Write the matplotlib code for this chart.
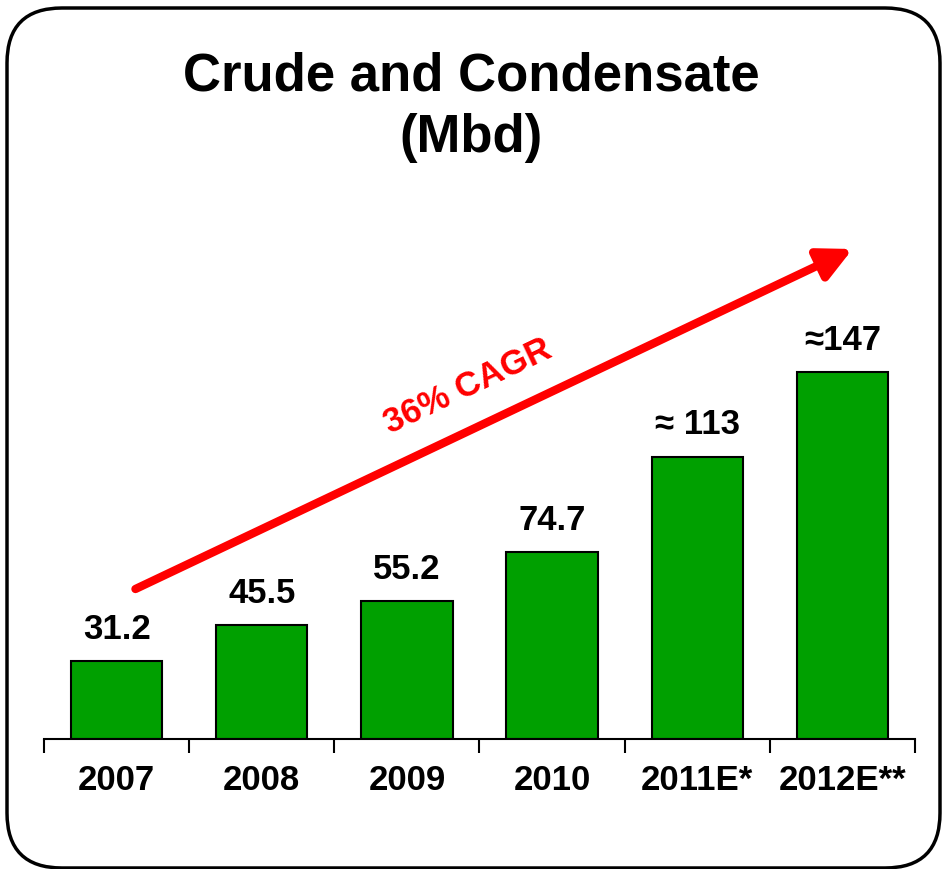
import matplotlib.pyplot as plt
from matplotlib.patches import FancyBboxPatch

years = ["2007", "2008", "2009", "2010", "2011E*", "2012E**"]
values = [31.2, 45.5, 55.2, 74.7, 113, 147]
value_labels = ["31.2", "45.5", "55.2", "74.7", "\u2248 113", "\u2248147"]

plt.rcParams['font.family'] = ['Liberation Sans', 'DejaVu Sans']

fig = plt.figure(figsize=(9.42, 8.69), dpi=100)
ax = fig.add_axes([44 / 942, 130 / 869, 871 / 942, 500 / 869])

x = range(len(years))
ax.bar(x, values, width=0.63, color="#00a000", edgecolor="black", linewidth=1.5)
for xi, v, lab in zip(x, values, value_labels):
    ax.text(xi, v + 6, lab, ha="center", va="bottom", fontsize=25, fontweight="bold")

ax.set_xlim(-0.5, len(years) - 0.5)
ax.set_ylim(0, 200)
ax.set_xticks(x)
ax.set_xticklabels(years, fontsize=25, fontweight="bold")
ax.tick_params(axis="x", length=0, pad=18)
ax.set_xticks([i - 0.5 for i in range(len(years) + 1)], minor=True)
ax.tick_params(axis="x", which="minor", length=10, width=1.5, direction="out")
ax.set_yticks([])
for s in ["top", "left", "right"]:
    ax.spines[s].set_visible(False)
ax.spines["bottom"].set_linewidth(1.5)

# growth arrow
ax.annotate("", xy=(5.07, 196), xytext=(0.13, 60),
            arrowprops=dict(arrowstyle="-|>,head_length=1.0,head_width=0.5",
                            mutation_scale=20, color="#ff0000", lw=6,
                            shrinkA=0, shrinkB=0),
            annotation_clip=False)
ax.text(2.42, 141, "36% CAGR", color="#ff0000", fontsize=25, fontweight="bold",
        rotation=25.4, rotation_mode="anchor", ha="center", va="center")

fig.text(0.5, 0.877, "Crude and Condensate\n(Mbd)", ha="center", va="center",
         fontsize=38, fontweight="bold", linespacing=1.3)

border = FancyBboxPatch((0.07, 0.01), 9.33, 8.6, boxstyle="round,pad=0,rounding_size=0.55",
                        transform=fig.dpi_scale_trans, fill=False, edgecolor="black", linewidth=2.5)
fig.add_artist(border)

fig.savefig("out.png", dpi=100)
